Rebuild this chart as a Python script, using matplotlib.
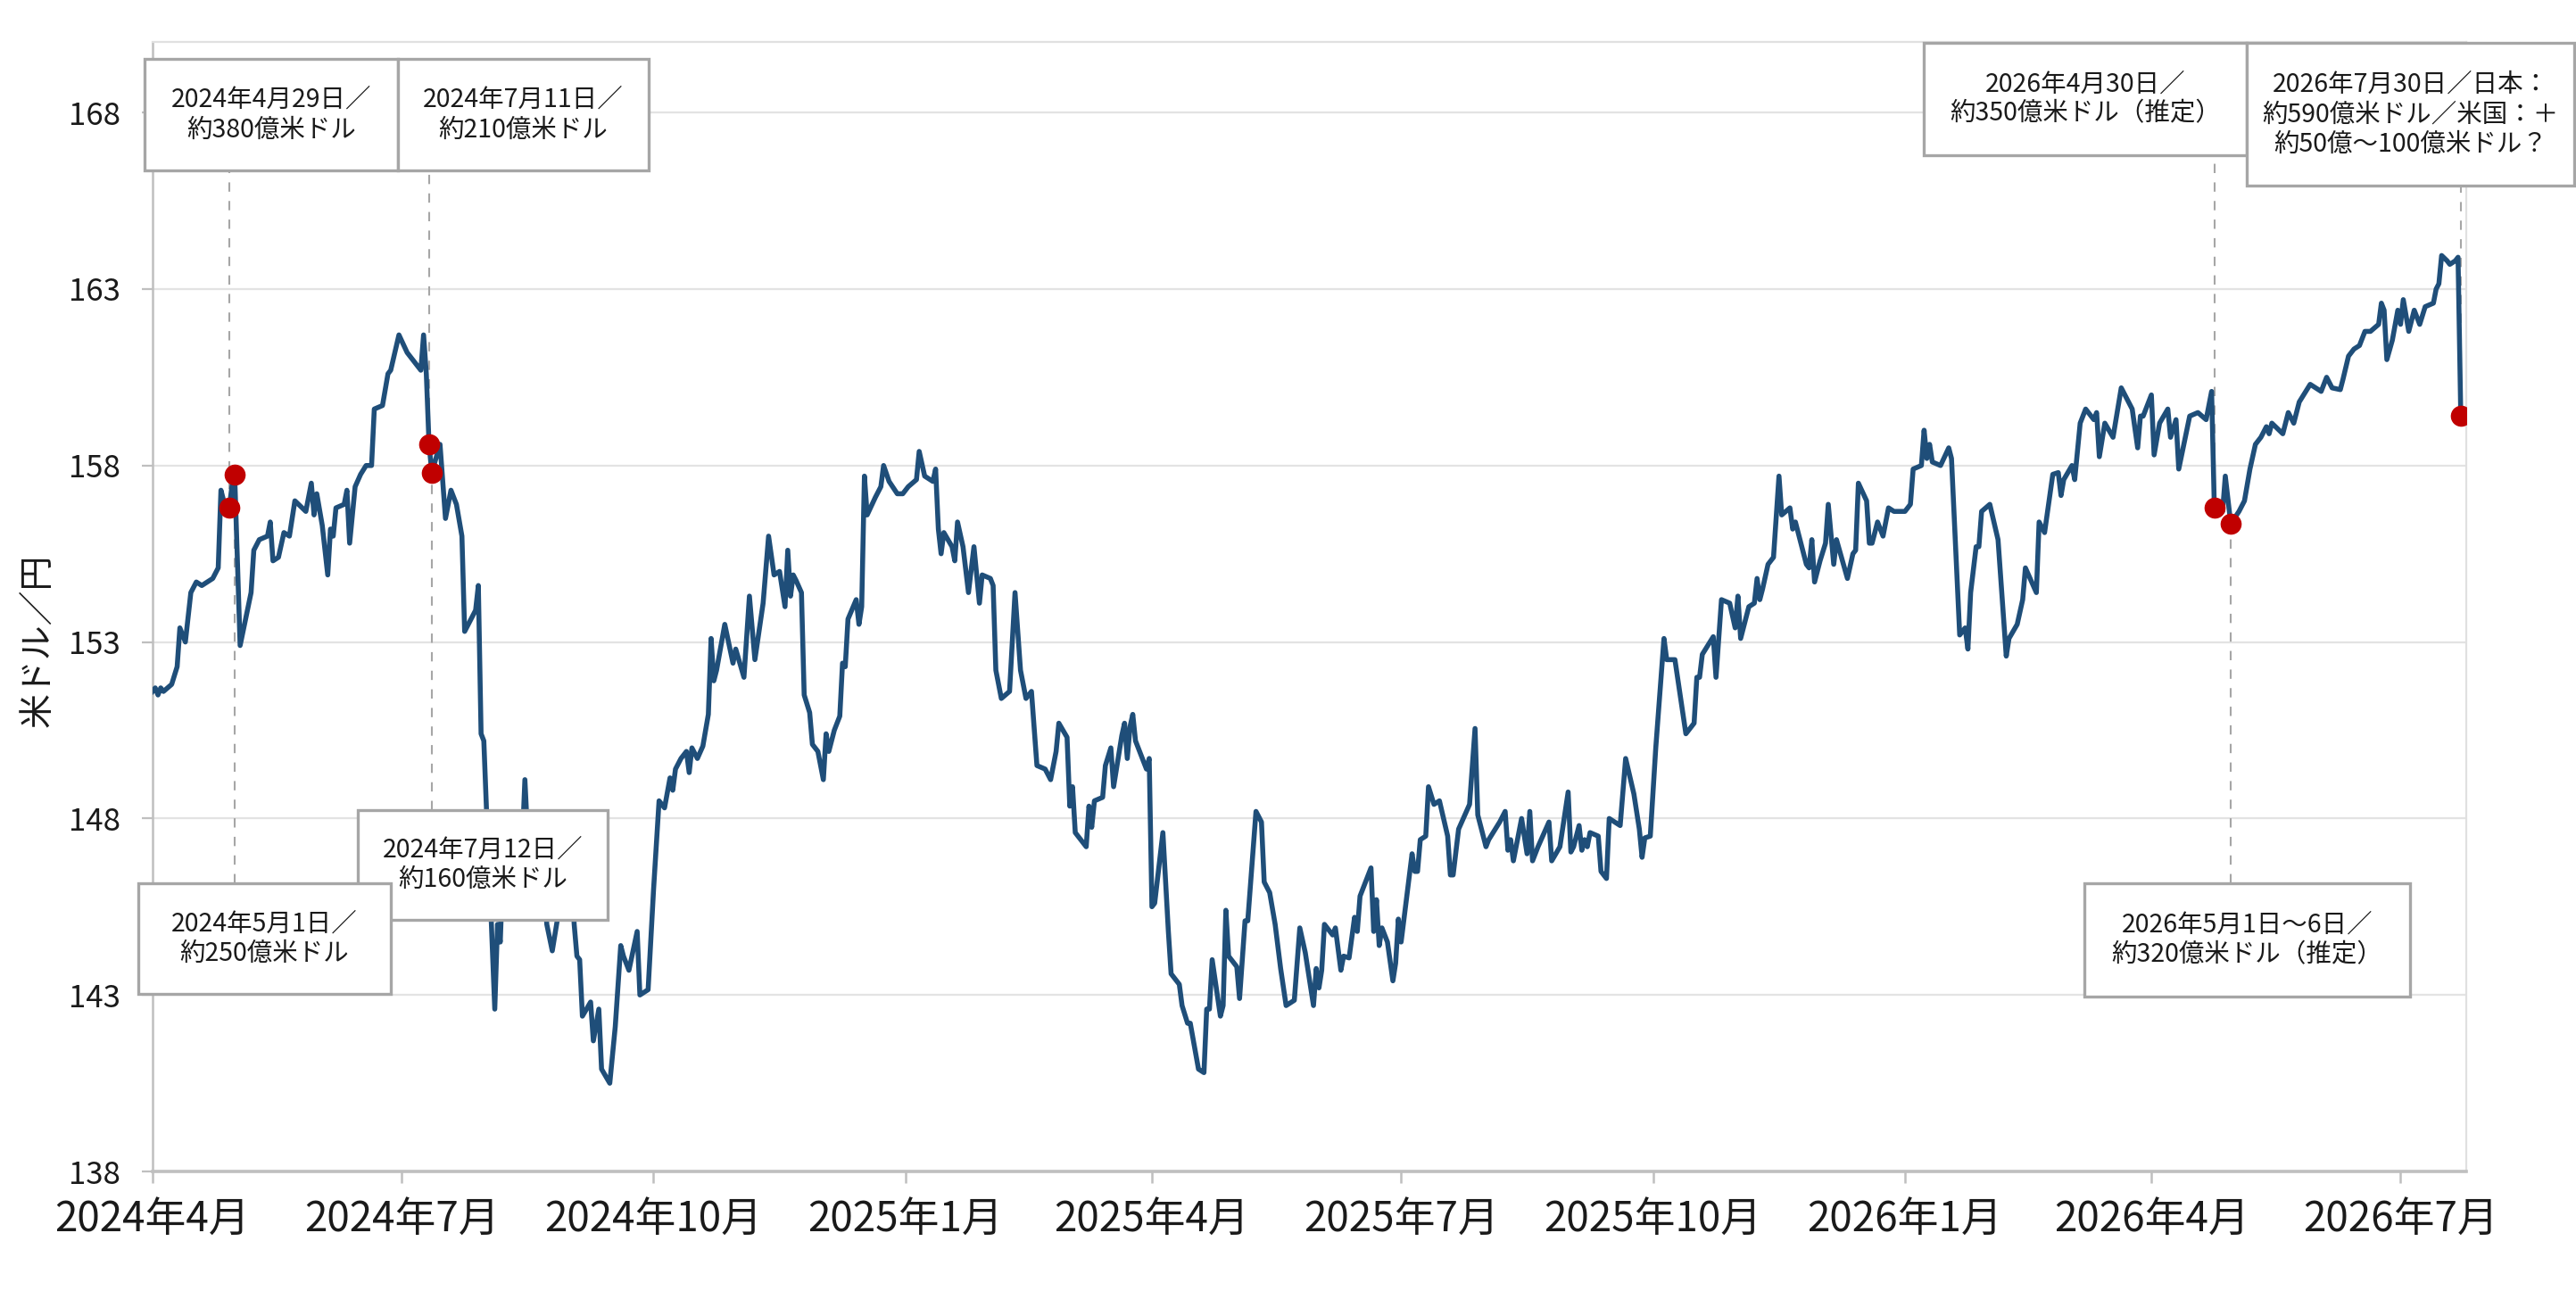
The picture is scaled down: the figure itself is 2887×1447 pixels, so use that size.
import matplotlib
matplotlib.use("Agg")
import matplotlib.pyplot as plt
import pandas as pd
from matplotlib.patches import Rectangle

plt.rcParams['font.family'] = ['Noto Sans CJK JP', 'DejaVu Sans']

# ---------------- data ----------------
START_DATE = pd.Timestamp('2024-04-01')

day_offsets = [
    0, 1, 2, 3, 4, 7, 9, 10, 12, 14, 16, 18, 22, 24, 25, 26, 28, 29, 30, 32,
    36, 37, 39, 42, 43, 44, 46, 48, 50, 52, 56, 58, 59, 60, 62, 64, 65, 66, 67, 70,
    71, 72, 74, 76, 78, 80, 81, 84, 86, 87, 90, 93, 97, 98, 99, 100, 101, 102, 105, 107,
    109, 111, 113, 114, 116, 118, 119, 120, 121, 122, 123, 125, 126, 127, 128, 129, 130, 133, 134, 135,
    136, 137, 140, 141, 142, 143, 144, 146, 148, 149, 150, 151, 153, 154, 155, 156, 157, 160, 161, 163,
    164, 167, 169, 171, 172, 174, 177, 178, 181, 183, 185, 187, 189, 190, 191, 193, 195, 196, 197, 199,
    201, 203, 204, 205, 206, 209, 212, 213, 216, 218, 220, 223, 225, 227, 229, 231, 232, 233, 234, 235,
    237, 238, 240, 241, 243, 245, 246, 247, 249, 251, 252, 253, 254, 257, 258, 259, 260, 261, 264, 266,
    267, 269, 272, 274, 276, 279, 280, 282, 285, 286, 287, 288, 289, 292, 293, 294, 296, 298, 300, 302,
    303, 306, 307, 308, 310, 313, 315, 317, 319, 321, 323, 326, 328, 330, 331, 334, 335, 336, 337, 341,
    342, 343, 344, 347, 348, 350, 351, 354, 355, 356, 357, 358, 359, 363, 364, 365, 366, 369, 371, 372,
    375, 376, 378, 379, 382, 384, 385, 386, 387, 390, 391, 392, 393, 396, 397, 399, 400, 403, 405, 406,
    408, 410, 412, 414, 417, 419, 421, 424, 425, 426, 427, 428, 431, 432, 434, 435, 437, 439, 440, 441,
    445, 446, 447, 448, 449, 451, 453, 454, 455, 456, 460, 461, 462, 463, 465, 466, 468, 470, 473, 474,
    475, 477, 481, 483, 484, 487, 488, 492, 494, 495, 496, 497, 500, 502, 503, 504, 506, 510, 511, 514,
    517, 518, 519, 521, 522, 523, 524, 525, 528, 529, 531, 532, 536, 538, 541, 543, 544, 545, 547, 549,
    552, 553, 556, 560, 563, 564, 565, 566, 570, 571, 573, 576, 578, 579, 580, 581, 583, 585, 586, 587,
    588, 590, 592, 594, 595, 598, 599, 600, 604, 605, 606, 607, 609, 611, 612, 614, 615, 619, 621, 622,
    623, 626, 627, 628, 630, 632, 634, 636, 640, 642, 643, 646, 647, 648, 649, 650, 653, 656, 657, 660,
    662, 663, 664, 666, 667, 668, 671, 674, 677, 678, 681, 683, 684, 688, 689, 691, 694, 696, 697, 698,
    701, 702, 704, 706, 709, 710, 711, 713, 716, 719, 723, 725, 726, 727, 730, 731, 733, 736, 737, 739,
    740, 744, 747, 750, 752, 753, 756, 757, 759, 762, 764, 766, 768, 770, 772, 773, 774, 778, 780, 782,
    784, 788, 792, 794, 796, 799, 800, 802, 804, 806, 808, 810, 813, 814, 815, 816, 818, 820, 821, 822,
    824, 826, 828, 830, 833, 834, 835, 836, 838, 839, 841, 842, 843,
]

usd_jpy = [
    151.6, 151.7, 151.5, 151.7, 151.6, 151.8, 152.3, 153.4, 153.0, 154.4, 154.7, 154.6, 154.8, 155.1, 157.3, 157.0, 156.8, 157.4, 157.75, 152.9,
    154.4, 155.6, 155.9, 156.0, 156.4, 155.3, 155.4, 156.1, 156.0, 157.0, 156.7, 157.5, 156.6, 157.2, 156.3, 154.9, 156.2, 156.0, 156.8, 156.9,
    157.3, 155.8, 157.4, 157.75, 158.0, 158.0, 159.6, 159.7, 160.6, 160.7, 161.7, 161.2, 160.8, 160.7, 161.7, 160.6, 158.6, 157.8, 158.6, 156.5,
    157.3, 156.9, 156.0, 153.3, 153.6, 153.9, 154.6, 150.4, 150.2, 148.2, 146.5, 142.6, 145.0, 144.5, 146.6, 147.0, 146.6, 147.0, 146.8, 147.2,
    149.1, 147.5, 146.3, 145.2, 145.3, 146.2, 145.0, 144.25, 145.2, 146.0, 146.4, 146.0, 146.5, 145.0, 144.1, 144.0, 142.4, 142.8, 141.7, 142.6,
    140.9, 140.5, 142.1, 144.4, 144.1, 143.7, 144.8, 143.0, 143.15, 146.0, 148.5, 148.3, 149.15, 148.8, 149.4, 149.7, 149.9, 149.3, 150.0, 149.7,
    150.05, 150.95, 153.1, 151.9, 152.2, 153.5, 152.4, 152.8, 152.0, 154.3, 152.5, 154.1, 156.0, 154.9, 155.0, 154.0, 155.6, 154.3, 154.9, 154.75,
    154.4, 151.5, 151.0, 150.1, 149.9, 149.1, 150.4, 149.9, 150.5, 150.9, 152.4, 152.3, 153.65, 154.2, 153.5, 154.0, 157.7, 156.6, 157.1, 157.4,
    158.0, 157.55, 157.2, 157.2, 157.4, 157.6, 158.4, 157.7, 157.55, 157.9, 156.2, 155.5, 156.1, 155.7, 155.3, 156.4, 155.7, 154.4, 155.7, 154.1,
    154.9, 154.8, 154.6, 152.2, 151.4, 151.6, 154.4, 152.2, 151.4, 151.6, 149.5, 149.4, 149.1, 149.9, 150.7, 150.3, 148.35, 148.9, 147.6, 147.2,
    148.35, 147.75, 148.5, 148.6, 149.5, 150.0, 148.9, 150.35, 150.7, 149.7, 150.6, 150.95, 150.2, 149.4, 149.7, 145.5, 145.6, 147.6, 144.8, 143.6,
    143.3, 142.7, 142.2, 142.2, 140.9, 140.8, 142.6, 142.6, 144.0, 142.4, 142.7, 145.4, 144.1, 143.8, 142.9, 145.1, 145.1, 148.2, 147.9, 146.2,
    145.9, 145.0, 143.75, 142.7, 142.85, 144.9, 144.2, 142.7, 143.75, 143.2, 143.7, 145.0, 144.7, 144.9, 143.7, 144.1, 144.05, 145.2, 144.8, 145.8,
    146.6, 144.8, 145.7, 144.4, 144.9, 144.5, 143.4, 143.9, 145.15, 144.5, 147.0, 146.5, 146.5, 147.4, 147.5, 148.9, 148.4, 148.5, 147.5, 146.4,
    146.4, 147.7, 148.4, 150.55, 148.1, 147.2, 147.4, 147.9, 148.2, 147.1, 147.4, 146.8, 148.0, 147.0, 148.2, 146.8, 147.2, 147.9, 146.8, 147.2,
    148.75, 147.05, 147.2, 147.8, 147.1, 147.4, 147.2, 147.6, 147.5, 146.5, 146.3, 148.0, 147.8, 149.7, 148.7, 147.7, 146.9, 147.45, 147.5, 150.0,
    153.1, 152.5, 152.5, 150.4, 150.7, 152.0, 152.0, 152.65, 153.15, 152.0, 154.2, 154.1, 153.4, 154.3, 153.1, 153.4, 154.0, 154.1, 154.8, 154.2,
    154.5, 155.2, 155.4, 157.7, 156.6, 156.8, 156.2, 156.4, 155.2, 155.1, 155.9, 154.7, 155.3, 155.8, 156.9, 155.2, 155.9, 154.8, 155.5, 155.6,
    157.5, 157.0, 155.8, 155.8, 156.4, 156.0, 156.8, 156.7, 156.7, 156.9, 157.9, 158.0, 159.0, 158.2, 158.6, 158.1, 158.0, 158.5, 158.2, 153.2,
    153.4, 152.8, 154.4, 155.7, 155.7, 156.7, 156.9, 155.9, 152.6, 153.1, 153.5, 154.2, 155.1, 154.4, 156.4, 156.1, 157.75, 157.8, 157.15, 157.6,
    158.0, 157.6, 159.2, 159.6, 159.3, 159.5, 158.25, 159.2, 158.8, 160.2, 159.6, 158.5, 159.4, 159.4, 160.0, 158.3, 159.2, 159.6, 158.8, 159.3,
    157.9, 159.4, 159.5, 159.3, 160.1, 156.8, 156.7, 157.7, 156.35, 156.7, 157.0, 157.9, 158.6, 158.8, 159.1, 158.9, 159.2, 158.9, 159.5, 159.2,
    159.8, 160.3, 160.1, 160.5, 160.2, 160.15, 160.45, 161.1, 161.3, 161.4, 161.8, 161.8, 162.0, 162.6, 162.4, 161.0, 161.55, 162.4, 162.0, 162.7,
    161.8, 162.4, 162.0, 162.5, 162.6, 163.0, 163.15, 163.95, 163.8, 163.7, 163.8, 163.9, 159.4,
]

# intervention events (day offset of the marked point on the line)
event_days = [28, 30, 101, 102, 753, 759, 843]
event_labels = [
    "2024年4月29日／\n約380億米ドル",
    "2024年5月1日／\n約250億米ドル",
    "2024年7月11日／\n約210億米ドル",
    "2024年7月12日／\n約160億米ドル",
    "2026年4月30日／\n約350億米ドル（推定）",
    "2026年5月1日～6日／\n約320億米ドル（推定）",
    "2026年7月30日／日本：\n約590億米ドル／米国：＋\n約50億～100億米ドル？",
]

y_ticks = [138, 143, 148, 153, 158, 163, 168]
x_tick_months = pd.date_range('2024-04-01', '2026-07-01', freq='QS')
y_label = "米ドル／円"

# ---------------- layout / style ----------------
LINE_COLOR = '#1F4E79'
DOT_COLOR = '#C00000'
GRID_COLOR = '#E3E3E3'
AXIS_COLOR = '#BFBFBF'
BOX_EDGE = '#A6A6A6'
TEXT_COLOR = '#1A1A1A'
YMIN, YMAX = 138, 170

# box rectangles in axes fraction: (x0, y0, x1, y1) and drawing order (zorder)
box_rects = [
    (-0.0035, 0.886, 0.1061, 0.985),
    (-0.0062, 0.1572, 0.1030, 0.2551),
    (0.1061, 0.886, 0.2144, 0.985),
    (0.0887, 0.2227, 0.1967, 0.3199),
    (0.7655, 0.8997, 0.9051, 0.9992),
    (0.8349, 0.1548, 0.9757, 0.2551),
    (0.9051, 0.8728, 1.0467, 0.9992),
]
box_z = [20, 24, 20, 22, 20, 20, 20]

fig = plt.figure(figsize=(28.87, 14.47), dpi=100)
ax = fig.add_axes([0.0592, 0.0926, 0.8982, 0.8749])

dates = START_DATE + pd.to_timedelta(day_offsets, unit='D')
ax.plot(dates, usd_jpy, color=LINE_COLOR, lw=4.0, zorder=5, solid_joinstyle='round')

ax.set_ylim(YMIN, YMAX)
ax.set_xlim(START_DATE, START_DATE + pd.Timedelta(days=845))
ax.set_yticks(y_ticks)
ax.set_yticklabels([str(v) for v in y_ticks])
ax.set_xticks(x_tick_months)
ax.set_xticklabels([f"{d.year}年{d.month}月" for d in x_tick_months])

ax.grid(axis='y', color=GRID_COLOR, lw=1.6, zorder=0)
ax.set_axisbelow(True)

for side in ['top', 'right']:
    ax.spines[side].set_color('#E0E0E0')
    ax.spines[side].set_linewidth(1.6)
ax.spines['left'].set_color(AXIS_COLOR)
ax.spines['left'].set_linewidth(1.8)
ax.spines['bottom'].set_color(AXIS_COLOR)
ax.spines['bottom'].set_linewidth(2.6)

ax.tick_params(axis='y', length=9, width=1.6, color=AXIS_COLOR, pad=17,
               labelsize=25, labelcolor=TEXT_COLOR)
ax.tick_params(axis='x', length=9, width=1.8, color=AXIS_COLOR, pad=12,
               labelsize=33, labelcolor=TEXT_COLOR)

fig.text(0.015, 0.504, y_label, rotation=90, ha='center', va='center',
         fontsize=28, color=TEXT_COLOR)

# events: dashed guide, red dot, label box
for d, label, (x0, y0, x1, y1), z in zip(event_days, event_labels, box_rects, box_z):
    val = usd_jpy[day_offsets.index(d)]
    xdate = START_DATE + pd.Timedelta(days=d)
    frac = (val - YMIN) / (YMAX - YMIN)
    if y0 > frac:
        lo, hi = frac, y0
    else:
        lo, hi = y1, frac
    ax.axvline(xdate, ymin=lo, ymax=hi, color=BOX_EDGE, lw=1.5,
               ls=(0, (5, 5)), zorder=3)
    ax.plot([xdate], [val], 'o', color=DOT_COLOR, ms=16, mec=DOT_COLOR, zorder=8)
    ax.add_patch(Rectangle((x0, y0), x1 - x0, y1 - y0, transform=ax.transAxes,
                           facecolor='white', edgecolor=BOX_EDGE, lw=2.4,
                           clip_on=False, zorder=z))
    ax.text((x0 + x1) / 2, (y0 + y1) / 2, label, transform=ax.transAxes,
            ha='center', va='center', multialignment='center', fontsize=20.5,
            color=TEXT_COLOR, zorder=z + 1, clip_on=False, linespacing=1.15)

fig.savefig('out.png', dpi=100)
